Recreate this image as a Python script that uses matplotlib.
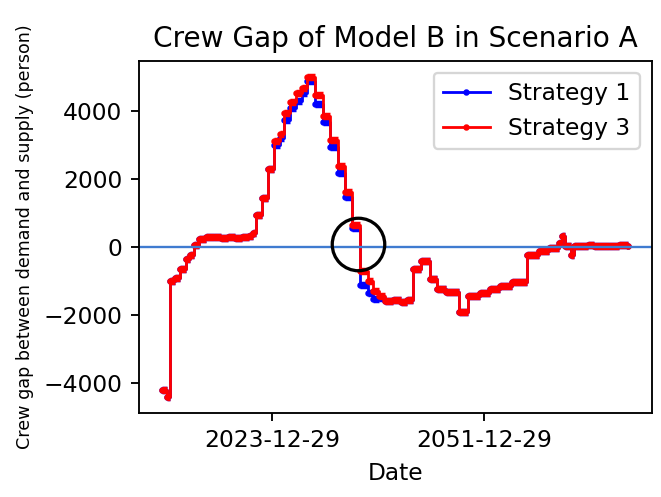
import matplotlib.pyplot as plt

# ----------------------------------------------------------------------
# data (dates as decimal years, crew gap in persons)
# ----------------------------------------------------------------------
dates = [2009.5, 2010.1, 2010.6, 2011.2, 2011.8, 2012.7, 2013.2, 2013.7,
         2014.4, 2015.3, 2016.3, 2017.3, 2018.2, 2019.1, 2020.1, 2020.9,
         2021.5, 2021.9, 2022.7, 2023.5, 2024.2, 2025.1, 2025.6, 2026.4,
         2027.2, 2028.0, 2028.6, 2029.7, 2030.7, 2031.7, 2032.7, 2033.6,
         2034.6, 2035.6, 2036.6, 2037.3, 2038.1, 2038.9, 2040.0, 2041.0,
         2041.8, 2042.6, 2043.7, 2044.8, 2045.7, 2047.0, 2048.7, 2049.8,
         2051.4, 2052.7, 2054.0, 2055.7, 2057.6, 2059.2, 2060.5, 2061.8,
         2062.3, 2062.7, 2063.4, 2063.8, 2065.7, 2066.4, 2068.4, 2069.7,
         2071.0]

strategy3 = [-4200, -4400, -980, -890, -630, -340, -230, 80,
             230, 290, 310, 280, 300, 270, 290, 320,
             430, 960, 1450, 2300, 3110, 3320, 3960, 4260,
             4540, 4690, 5000, 4470, 3860, 3160, 2400, 1630,
             660, -690, -990, -1290, -1430, -1590, -1550, -1610,
             -1550, -630, -390, -930, -1220, -1320, -1890, -1430,
             -1330, -1220, -1130, -1020, -230, -120, -30, 120,
             330, 30, -230, 50, 80, 40, 50, 80,
             40]

strategy1 = [-4200, -4400, -980, -890, -630, -340, -230, 80,
             230, 290, 310, 280, 300, 270, 290, 320,
             430, 960, 1450, 2300, 3000, 3210, 3750, 4090,
             4290, 4540, 4900, 4200, 3690, 2960, 2190, 1480,
             570, -1100, -1330, -1530, -1480, -1590, -1550, -1610,
             -1550, -630, -390, -930, -1220, -1320, -1890, -1430,
             -1330, -1220, -1130, -1020, -230, -120, -30, 120,
             330, 30, -230, 50, 80, 40, 50, 80,
             40]

tick_dates = [2023.99, 2051.99]
tick_labels = ['2023-12-29', '2051-12-29']

highlight_date = 2035.3
highlight_value = 100

# ----------------------------------------------------------------------
# plot
# ----------------------------------------------------------------------
fig = plt.figure(figsize=(661/168, 497/168), dpi=168)
ax = fig.add_axes([0.21, 0.169, 0.776, 0.708])

for vals, col, name in [(strategy1, 'blue', 'Strategy 1'), (strategy3, 'red', 'Strategy 3')]:
  ax.hlines(vals[:-1], dates[:-1], dates[1:], colors=col, lw=3.2)
  ax.plot(dates, vals, color=col, lw=1.2, drawstyle='steps-post',
          marker='.', markersize=3.5, label=name)

ax.axhline(0, color='#3f7bd0', lw=1.0)
ax.plot([highlight_date], [highlight_value], 'o', ms=22.5, mfc='none',
        mec='black', mew=1.4)

ax.set_xticks(tick_dates)
ax.set_xticklabels(tick_labels)
ax.set_title('Crew Gap of Model B in Scenario A')
ax.set_xlabel('Date')
ax.set_ylabel('Crew gap between demand and supply (person)', fontsize=7.5)
ax.legend(loc='upper right')

fig.savefig('out.png', dpi=168)
